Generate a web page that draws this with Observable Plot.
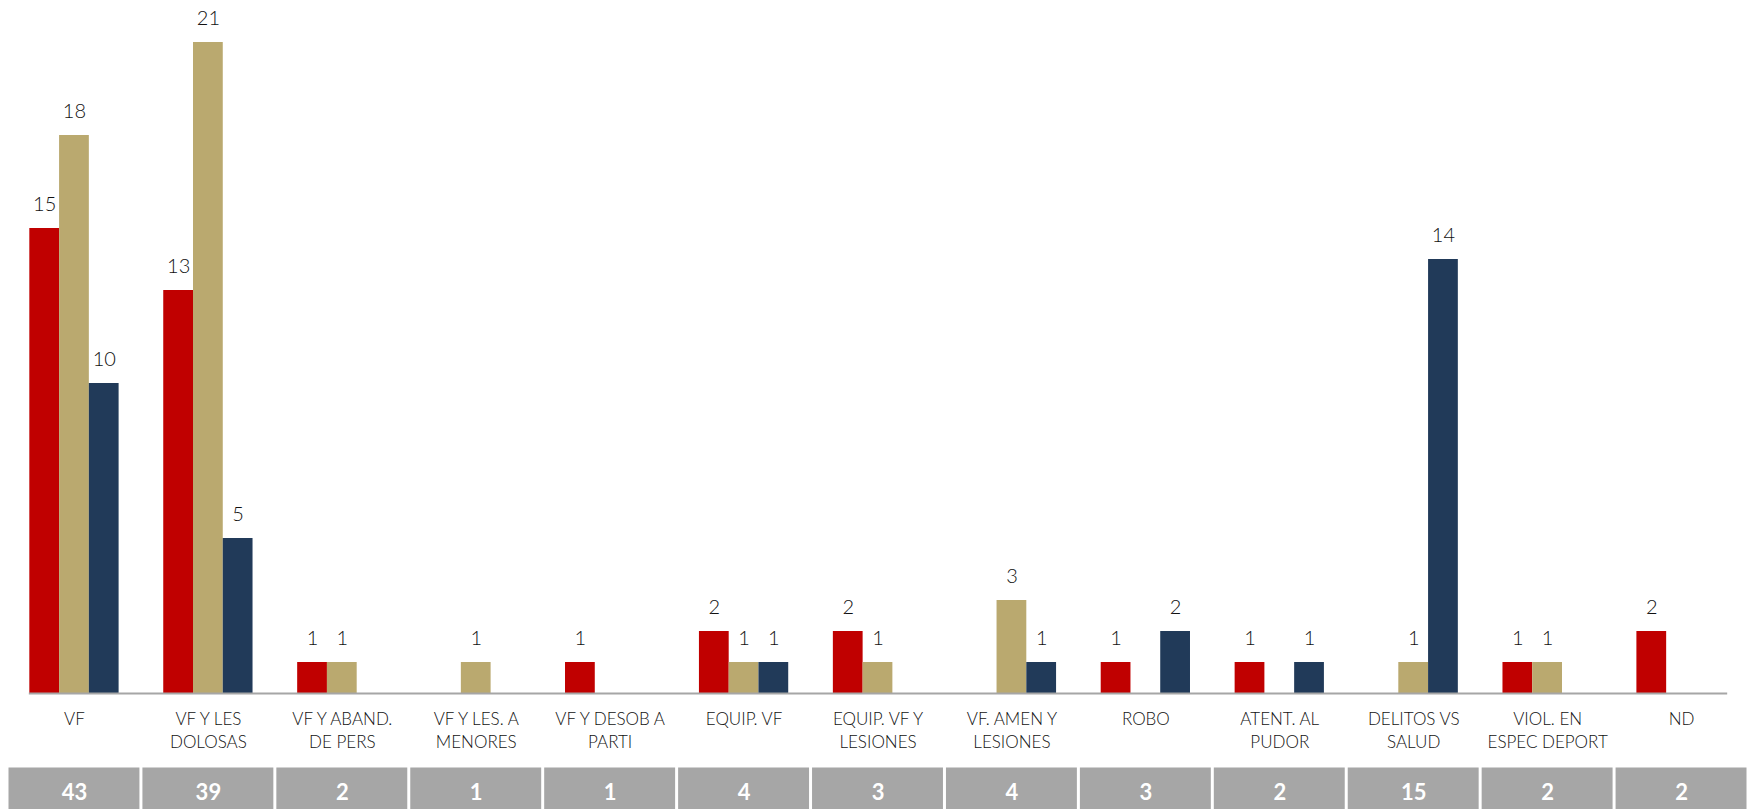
<!DOCTYPE html>
<html>
<head>
<meta charset="utf-8">
<script src="https://cdn.jsdelivr.net/npm/d3@7"></script>
<script src="https://cdn.jsdelivr.net/npm/@observablehq/plot@0.6"></script>
<style>
  html, body { margin: 0; padding: 0; background: #fff; overflow: hidden; }
  #chart svg { display: block; }
</style>
</head>
<body>
<div id="chart"></div>
<script>
const categories = [
  "VF", "VF Y LES\nDOLOSAS", "VF Y ABAND.\nDE PERS", "VF Y LES. A\nMENORES", "VF Y DESOB A\nPARTI",
  "EQUIP. VF", "EQUIP. VF Y\nLESIONES", "VF. AMEN Y\nLESIONES", "ROBO", "ATENT. AL\nPUDOR",
  "DELITOS VS\nSALUD", "VIOL. EN\nESPEC DEPORT", "ND"
];
const seriesNames = ["Serie 1", "Serie 2", "Serie 3"];
const serie1 = [15, 13, 1, 0, 1, 2, 2, 0, 1, 1, 0, 1, 2];
const serie2 = [18, 21, 1, 1, 0, 1, 1, 3, 0, 0, 1, 1, 0];
const serie3 = [10, 5, 0, 0, 0, 1, 0, 1, 2, 1, 14, 0, 0];
const totals = [43, 39, 2, 1, 1, 4, 3, 4, 3, 2, 15, 2, 2];
const colors = ["#C00000", "#BAA96F", "#213A59"];

const seriesValues = [serie1, serie2, serie3];
const rows = [];
categories.forEach((c, i) => {
  seriesValues.forEach((vals, s) => {
    if (vals[i] > 0) rows.push({cat: c, series: seriesNames[s], value: vals[i]});
  });
});
const totalRows = categories.map((c, i) => ({cat: c, total: totals[i]}));

const font = "Lato, 'DejaVu Sans', sans-serif";
const W = 1752;
const mL = 7, mR = 4;

const main = Plot.plot({
  width: W,
  height: 760,
  marginTop: 42,
  marginBottom: 67,
  marginLeft: mL,
  marginRight: mR,
  style: {fontFamily: font, background: "#fff"},
  fx: {domain: categories, paddingInner: 1/3, paddingOuter: 1/6, round: false, label: null},
  x: {domain: seriesNames, padding: 0, axis: null, round: false},
  y: {domain: [0, 21], axis: null},
  color: {domain: seriesNames, range: colors},
  marks: [
    Plot.barY(rows, {fx: "cat", x: "series", y: "value", fill: "series"}),
    Plot.text(rows, {fx: "cat", x: "series", y: "value", text: d => String(d.value),
      lineAnchor: "bottom", dy: -18, fontSize: 20, fontWeight: 300, fill: "#111"}),
    Plot.frame({anchor: "bottom", facet: "super", stroke: "#a6a6a6", strokeWidth: 2}),
    Plot.axisFx({anchor: "bottom", tickSize: 0, tickPadding: 15, fontSize: 17, fontWeight: 300,
      lineHeight: 1.35, fill: "#111", label: null})
  ]
});

const totalsRow = Plot.plot({
  width: W,
  height: 54,
  marginTop: 6,
  marginBottom: 0,
  marginLeft: mL,
  marginRight: mR,
  style: {fontFamily: font, background: "#fff"},
  x: {domain: categories, padding: 0, axis: null, round: false},
  marks: [
    Plot.cell(totalRows, {x: "cat", fill: "#A6A6A6", inset: 1.5}),
    Plot.text(totalRows, {x: "cat", text: d => String(d.total), fill: "#fff",
      fontSize: 22, fontWeight: "bold", dy: 2})
  ]
});

document.getElementById("chart").append(main, totalsRow);
</script>
</body>
</html>
